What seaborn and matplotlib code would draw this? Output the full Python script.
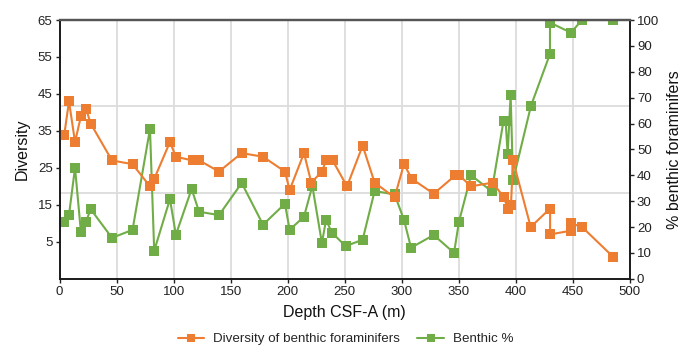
import matplotlib
matplotlib.use("Agg")
import matplotlib.pyplot as plt
from matplotlib.ticker import FixedLocator
import seaborn as sns
import pandas as pd

# Diversity of benthic foraminifers vs depth
depth_div = [4.2, 8.3, 13.6, 18.8, 23.2, 27.3, 46, 64, 79.3, 83, 96.8, 102,
             116.7, 122.5, 139.8, 159.7, 178.4, 197.6, 201.7, 214.3, 220.7,
             230, 233.6, 239.4, 252, 265.7, 276.2, 293.7, 301.9, 308.9, 328,
             347, 350.4, 360.7, 379.6, 389.6, 392.8, 395.7, 397.5, 413, 430,
             430, 448.3, 448.3, 458, 485]
diversity = [34, 43, 32, 39, 41, 37, 27, 26, 20, 22, 32, 28,
             27, 27, 24, 29, 28, 24, 19, 29, 21,
             24, 27, 27, 20, 31, 21, 17, 26, 22, 18,
             23, 23, 20, 21, 17, 14, 15, 27, 9, 14,
             7, 8, 10, 9, 1]

# Benthic percentage vs depth
depth_pct = [4.2, 8.3, 13.6, 18.8, 23.2, 27.3, 46, 64, 79.3, 83, 96.8, 102,
             115.8, 122.3, 139.8, 159.7, 178.4, 197.6, 201.7, 214.3, 221.6,
             230, 233.6, 238.8, 250.8, 265.7, 276.2, 293.7, 301.9, 308.1, 328,
             345.8, 350.1, 360.7, 378.8, 389.2, 391.0, 392.8, 395.4, 397.5,
             413.2, 429.9, 429.9, 448.3, 457.9, 484.8]
benthic = [22, 24.6, 42.9, 17.9, 22, 26.9, 15.8, 18.9, 57.9, 10.8, 30.8, 17,
           34.7, 25.9, 24.6, 37, 20.9, 29, 18.9, 24, 35.9,
           13.8, 22.7, 17.8, 12.6, 15.1, 33.9, 32.6, 22.8, 12, 16.9,
           10, 22, 40, 33.8, 61.1, 61.1, 48.2, 71.1, 38,
           66.8, 86.9, 99, 95.1, 100, 100]

div_label = "Diversity of benthic foraminifers"
pct_label = "Benthic %"
left_ticks = [5, 15, 25, 35, 45, 55, 65]
right_ticks = list(range(0, 101, 10))
x_ticks = list(range(0, 501, 50))

ORANGE = "#ED7D31"
GREEN = "#70AD47"
GRID = "#dcdcdc"

sns.set_theme(style="white")
plt.rcParams["font.family"] = ["Liberation Sans", "DejaVu Sans"]

fig = plt.figure(figsize=(6.84, 3.48), dpi=100)
ax = fig.add_axes([0.087, 0.199, 0.834, 0.7435])
ax2 = ax.twinx()

df_div = pd.DataFrame({"depth": depth_div, "value": diversity})
df_pct = pd.DataFrame({"depth": depth_pct, "value": benthic})

line_kw = dict(estimator=None, sort=False, marker="s", markersize=6.8,
               markeredgewidth=0, linewidth=1.5)
sns.lineplot(data=df_pct, x="depth", y="value", ax=ax2, color=GREEN,
             markerfacecolor=GREEN, label=pct_label, **line_kw)
sns.lineplot(data=df_div, x="depth", y="value", ax=ax, color=ORANGE,
             markerfacecolor=ORANGE, label=div_label, **line_kw)

# diversity series drawn above the percentage series
ax.set_zorder(ax2.get_zorder() + 1)
ax.patch.set_visible(False)
ax2.patch.set_visible(True)
ax2.patch.set_facecolor("white")

ax.set_xlim(0, 500)
ax.set_ylim(-5, 65)
ax2.set_ylim(0, 100)
ax.set_xticks(x_ticks)
ax.set_yticks(left_ticks)
ax2.set_yticks(right_ticks)

# grid lives on the lower axes so both series sit above it
ax2.xaxis.set_visible(True)
ax2.set_xlabel("")
ax2.tick_params(axis="x", bottom=False, top=False,
                labelbottom=False, labeltop=False)
ax2.grid(True, axis="x", color=GRID, linewidth=1.3)
ax2.yaxis.set_minor_locator(FixedLocator([100 / 3, 200 / 3]))
ax2.grid(True, axis="y", which="minor", color=GRID, linewidth=1.3)
ax2.grid(False, axis="y", which="major")
ax2.tick_params(axis="y", which="minor", length=0)
ax.grid(False)

tick_kw = dict(direction="out", length=3, width=1, color="#222222",
               labelsize=9.5, labelcolor="#222222", pad=2)
ax.tick_params(axis="both", which="major", left=True, bottom=True, **tick_kw)
ax2.tick_params(axis="y", which="major", right=True, **tick_kw)

ax.set_xlabel("Depth CSF-A (m)", fontsize=11.5, color="#111111", labelpad=5)
ax.set_ylabel("Diversity", fontsize=11.5, color="#111111", labelpad=6)
ax2.set_ylabel("% benthic foraminifers", fontsize=11.5, color="#111111",
               labelpad=6)

for a in (ax, ax2):
    for side in ("left", "right", "bottom"):
        a.spines[side].set_color("#1a1a1a")
        a.spines[side].set_linewidth(1.2)
    a.spines["top"].set_color("#555555")
    a.spines["top"].set_linewidth(1.6)

h1, l1 = ax.get_legend_handles_labels()
h2, l2 = ax2.get_legend_handles_labels()
ax.get_legend().remove()
ax2.get_legend().remove()
fig.legend(h1 + h2, l1 + l2, loc="center", bbox_to_anchor=(0.505, 0.025),
           ncol=2, frameon=False, fontsize=9.6, handlelength=2.0,
           columnspacing=1.3, handletextpad=0.65, markerscale=0.75)

fig.savefig("out.png", dpi=100, facecolor="white")
